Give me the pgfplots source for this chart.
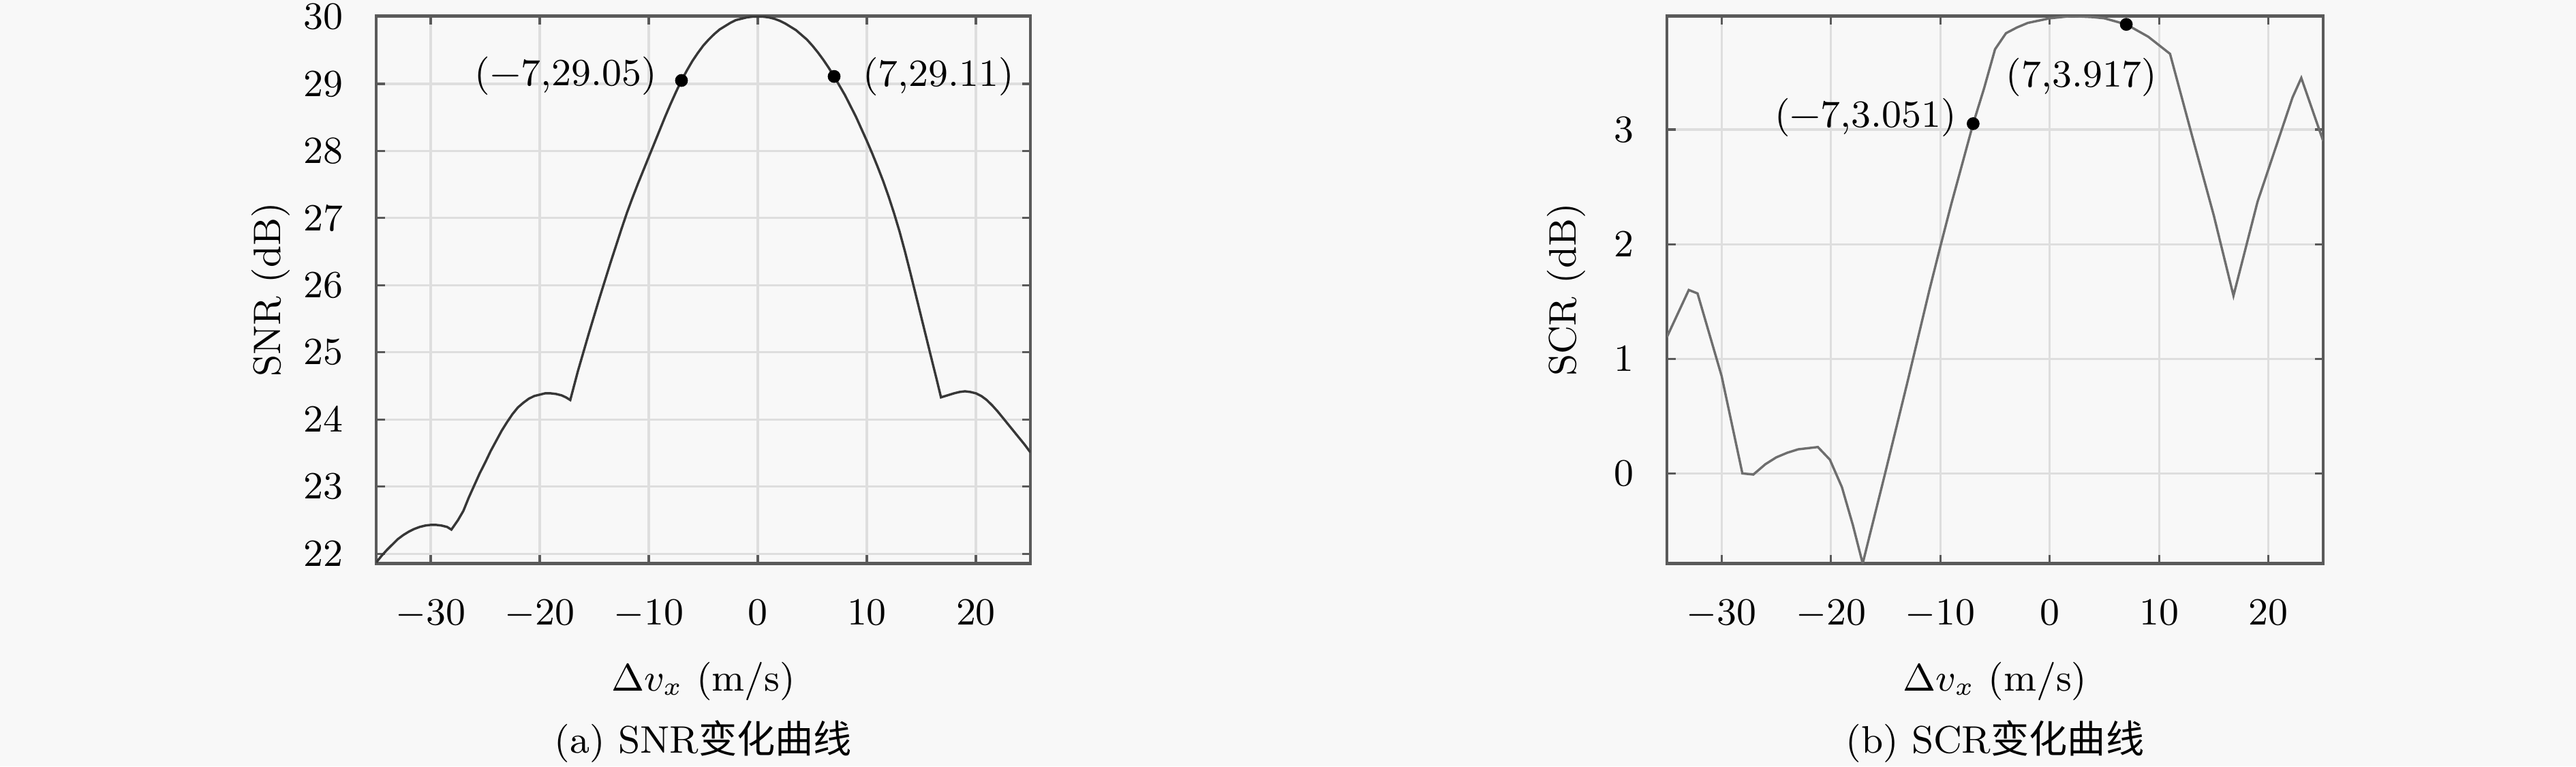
\documentclass[border=0pt]{standalone}
\usepackage{fontspec}
\newfontfamily\cjk{Noto Sans CJK SC}
\usepackage{pgfplots}
\pgfplotsset{compat=1.18}

\definecolor{bgc}{RGB}{248,248,248}
\definecolor{gridc}{RGB}{222,222,222}
\definecolor{axc}{RGB}{90,90,90}
\definecolor{snrc}{RGB}{55,55,55}
\definecolor{scrc}{RGB}{110,110,110}

\newcommand\nine{\fontsize{9}{10}\selectfont}

\pgfplotsset{
  panel/.style={
    scale only axis,
    height=128.48pt,
    anchor=south west,
    xmin=-35, xmax=25,
    xtick={-30,-20,...,20},
    grid=major,
    major grid style={gridc, line width=0.5pt},
    axis line style={axc, line width=0.65pt},
    major tick style={axc, line width=0.5pt},
    major tick length=2pt,
    tick align=inside,
    ticklabel style={font=\nine},
    xticklabel style={yshift=-5pt},
    yticklabel style={xshift=-4.3pt},
    label style={font=\nine},
    xlabel={$\Delta v_x$ (m/s)},
    xlabel style={at={(axis description cs:0.5,-0.2148)}, anchor=center},
    clip mode=individual,
  },
}

\begin{document}
\begin{tikzpicture}
\fill[bgc] (0,0) rectangle (604.8pt,179.84pt);

% (a) SNR
\begin{axis}[panel,
  at={(88.32pt,47.6pt)}, width=153.6pt,
  ymin=21.855, ymax=30.01,
  ytick={22,23,...,30},
  ylabel={SNR (dB)},
  ylabel style={at={(axis description cs:-0.161,0.5)}, anchor=center},
]
\addplot[snrc, line width=0.55pt] coordinates {
(-35,21.87) (-34.5,21.97) (-34,22.06) (-33.5,22.14) (-33,22.22) (-32.5,22.28)
(-32,22.33) (-31.5,22.37) (-31,22.40) (-30.5,22.42) (-30,22.43) (-29.5,22.43)
(-29,22.42) (-28.5,22.40) (-28.1,22.36) (-27.5,22.50) (-27,22.64) (-26.5,22.84)
(-26,23.02) (-25.5,23.20) (-25,23.36) (-24.5,23.53) (-24,23.68) (-23.5,23.83)
(-23,23.96) (-22.5,24.08) (-22,24.18) (-21.5,24.25) (-21,24.31) (-20.5,24.35)
(-20,24.37) (-19.5,24.39) (-19,24.39) (-18.5,24.38) (-18,24.36) (-17.6,24.33)
(-17.2,24.29) (-16.5,24.72) (-16,25.00) (-15.5,25.28) (-15,25.55) (-14.5,25.82)
(-14,26.08) (-13.5,26.34) (-13,26.59) (-12.5,26.84) (-12,27.08) (-11.5,27.30)
(-11,27.51) (-10.5,27.71) (-10,27.91) (-9.5,28.11) (-9,28.31) (-8.5,28.51)
(-8,28.70) (-7.5,28.88) (-7,29.05) (-6.5,29.20) (-6,29.34) (-5.5,29.46)
(-5,29.57) (-4.5,29.66) (-4,29.74) (-3.5,29.81) (-3,29.86) (-2.5,29.91)
(-2,29.95) (-1.5,29.97) (-1,29.99) (-0.5,30.00) (0,30.00) (0.5,30.00)
(1,29.99) (1.5,29.97) (2,29.94) (2.5,29.90) (3,29.85) (3.5,29.80)
(4,29.73) (4.5,29.66) (5,29.57) (5.5,29.47) (6,29.36) (6.5,29.24)
(7,29.11) (7.5,28.97) (8,28.83) (8.5,28.67) (9,28.51) (9.5,28.33)
(10,28.15) (10.5,27.96) (11,27.76) (11.5,27.55) (12,27.32) (12.5,27.07)
(13,26.80) (13.5,26.50) (14,26.18) (14.5,25.85) (15,25.52) (15.5,25.19)
(16,24.86) (16.4,24.60) (16.8,24.33) (17.2,24.35) (17.6,24.37) (18,24.39)
(18.5,24.41) (19,24.42) (19.5,24.41) (20,24.39) (20.5,24.35) (21,24.29)
(21.5,24.21) (22,24.12) (22.5,24.02) (23,23.92) (23.5,23.82) (24,23.72)
(24.5,23.62) (25,23.51)
};
\addplot[only marks, mark=*, mark size=1.3pt, black] coordinates {(-7,29.05) (7,29.11)};
\node[font=\nine, anchor=east, xshift=-2.3pt, yshift=1.1pt] at (axis cs:-7,29.05) {(−7,29.05)};
\node[font=\nine, anchor=west, xshift=3.2pt] at (axis cs:7,29.11) {(7,29.11)};
\node[font=\nine] at (axis description cs:0.5,-0.325) {(a) SNR{\cjk 变化曲线}};
\end{axis}

% (b) SCR
\begin{axis}[panel,
  at={(391.36pt,47.6pt)}, width=154.08pt,
  ymin=-0.786, ymax=3.99,
  ytick={0,1,2,3},
  ylabel={SCR (dB)},
  ylabel style={at={(axis description cs:-0.153,0.5)}, anchor=center},
]
\addplot[scrc, line width=0.55pt] coordinates {
(-35,1.19) (-33,1.60) (-32.2,1.57) (-30,0.85) (-28.1,0.00) (-27.1,-0.01)
(-26,0.08) (-25,0.14) (-24,0.18) (-23,0.21) (-21.2,0.23) (-20.1,0.12)
(-19,-0.12) (-18,-0.45) (-17.1,-0.786) (-15,0.02) (-13,0.80) (-11,1.60)
(-10,1.98) (-9,2.35) (-8,2.70) (-7,3.051) (-6,3.36) (-5,3.70) (-4,3.84)
(-3,3.89) (-2,3.93) (0,3.97) (2,3.99) (4,3.98) (5,3.97) (7,3.917)
(9,3.81) (11,3.66) (13,2.95) (15,2.25) (16.8,1.55) (19,2.37)
(22.2,3.28) (23,3.45) (25,2.90)
};
\addplot[only marks, mark=*, mark size=1.3pt, black] coordinates {(-7,3.051) (7,3.917)};
\node[font=\nine, anchor=east, xshift=-0.4pt, yshift=1.4pt] at (axis cs:-7,3.051) {(−7,3.051)};
\node[font=\nine, xshift=-10.5pt, yshift=-12.5pt] at (axis cs:7,3.917) {(7,3.917)};
\node[font=\nine] at (axis description cs:0.5,-0.325) {(b) SCR{\cjk 变化曲线}};
\end{axis}

\pgfresetboundingbox
\useasboundingbox (0,0) rectangle (604.8pt,179.84pt);
\end{tikzpicture}
\end{document}
